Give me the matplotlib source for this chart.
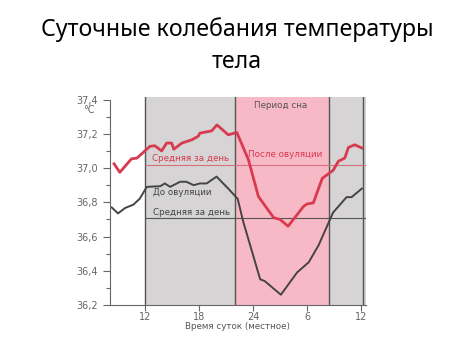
import matplotlib.pyplot as plt
from matplotlib.ticker import MultipleLocator

plt.rcParams['font.family'] = ['DejaVu Sans']

# время (часы, 12 = полдень первого дня, 36 = полдень следующего)
red_t = [8.56, 9.2, 10.5, 11.1, 12.55, 13.1, 13.85, 14.4, 14.96, 15.2, 16.1, 17.2, 17.9,
         18.1, 19.4, 20.0, 21.25, 22.2, 23.5, 24.6, 26.3, 27.0, 27.9, 29.6, 30.0, 30.7,
         31.7, 32.9, 33.5, 34.2, 34.6, 35.3, 36.1]
red_v = [37.025, 36.975, 37.054, 37.058, 37.127, 37.13, 37.10, 37.146, 37.146, 37.11, 37.146,
         37.165, 37.185, 37.204, 37.217, 37.252, 37.194, 37.208, 37.048, 36.834, 36.71, 36.70,
         36.66, 36.775, 36.79, 36.796, 36.94, 36.986, 37.04, 37.058, 37.12, 37.136, 37.117]

dark_t = [8.3, 9.0, 9.8, 10.7, 11.4, 12.2, 13.7, 14.2, 14.8, 15.9, 16.6, 17.4, 18.1, 18.85,
          19.95, 21.25, 22.3, 22.9, 24.8, 25.3, 27.1, 28.9, 30.2, 31.3, 32.9, 34.4, 34.96, 36.1]
dark_v = [36.77, 36.735, 36.767, 36.786, 36.82, 36.89, 36.894, 36.91, 36.89, 36.92, 36.92,
          36.90, 36.91, 36.91, 36.95, 36.88, 36.82, 36.69, 36.35, 36.34, 36.26, 36.39, 36.45,
          36.55, 36.74, 36.83, 36.83, 36.88]

red_mean = 37.02
dark_mean = 36.71
sleep_start, sleep_end = 22, 32.4
xticks = [12, 18, 24, 30, 36]
xtick_labels = ['12', '18', '24', '6', '12']

fig = plt.figure(figsize=(4.74, 3.55), dpi=100)
ax = fig.add_axes([110/474, 1 - 305/355, 256/474, 208/355])
ax.set_xlim(8.11, 36.56)
ax.set_ylim(36.2, 37.415)

gray = '#d6d4d4'
pink = '#f8b9c6'
ax.axvspan(12, sleep_start, color=gray, lw=0)
ax.axvspan(sleep_start, sleep_end, color=pink, lw=0)
ax.axvspan(sleep_end, 36.56, color=gray, lw=0)
for xv in [12, sleep_start, sleep_end, 36.2]:
    ax.axvline(xv, color='#555555', lw=1)

ax.hlines(red_mean, 12, 36.56, color='#d8707e', lw=0.8)
ax.hlines(dark_mean, 12, 36.56, color='#555555', lw=0.8)

ax.plot(red_t, red_v, color='#d83a50', lw=2)
ax.plot(dark_t, dark_v, color='#444444', lw=1.4)

lbl = dict(fontsize=6.3)
ax.text(27.05, 37.368, 'Период сна', color='#555555', ha='center', va='center', **lbl)
ax.text(27.6, 37.082, 'После овуляции', color='#d83a50', ha='center', va='center', **lbl)
ax.text(12.8, 37.053, 'Средняя за день', color='#d83a50', ha='left', va='center', **lbl)
ax.text(12.9, 36.86, 'До овуляции', color='#444444', ha='left', va='center', **lbl)
ax.text(12.9, 36.743, 'Средняя за день', color='#444444', ha='left', va='center', **lbl)

for s in ['top', 'right']:
    ax.spines[s].set_visible(False)
ax.spines['left'].set_bounds(36.2, 37.4)
ax.spines['left'].set_color('#666666')
ax.spines['bottom'].set_color('#666666')

ax.yaxis.set_major_locator(MultipleLocator(0.2))
ax.yaxis.set_minor_locator(MultipleLocator(0.1))
ax.set_yticklabels([f'{v:.1f}'.replace('.', ',') for v in ax.get_yticks()])
ax.set_xticks(xticks)
ax.set_xticklabels(xtick_labels)
ax.tick_params(axis='both', colors='#666666', labelsize=7, length=5, width=0.8)
ax.tick_params(axis='x', length=4, pad=1)
ax.tick_params(axis='y', which='minor', colors='#666666', length=3, width=0.8)
ax.text(-0.105, 37.34, '°C', transform=ax.get_yaxis_transform(), color='#666666',
        fontsize=7, ha='left', va='center')
ax.set_xlabel('Время суток (местное)', fontsize=6.3, color='#555555', labelpad=0)

fig.text(0.5, 1 - 30/355, 'Суточные колебания температуры', fontsize=16.7,
         family='Noto Sans', ha='center', va='center')
fig.text(0.5, 1 - 62/355, 'тела', fontsize=16.7, family='Noto Sans', ha='center', va='center')

fig.savefig('out.png', dpi=100)
